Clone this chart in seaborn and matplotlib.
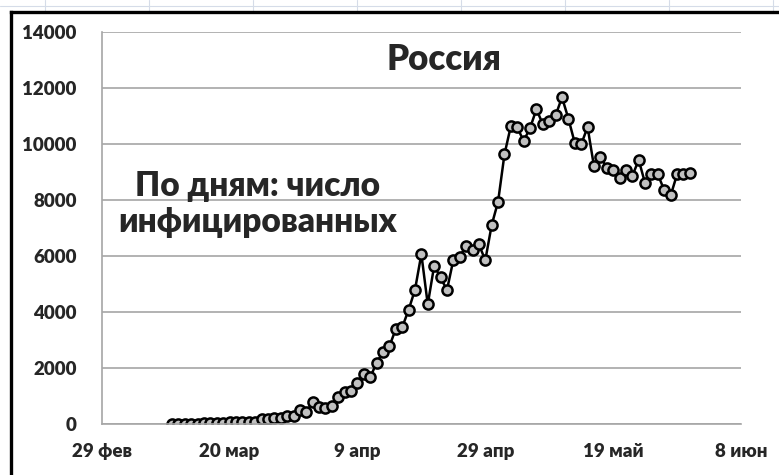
import matplotlib
matplotlib.use("Agg")

import matplotlib.pyplot as plt
import pandas as pd
import seaborn as sns
from matplotlib.lines import Line2D

# Daily new infections in Russia, one value per day starting 11 March 2020
START_DATE = "2020-03-11"
DAILY_CASES = [
    8, 6, 11, 14, 4, 30, 21, 33, 52, 54, 53, 61, 71, 57, 163, 182, 196, 228, 270, 302, 501,
    440, 771, 601, 582, 658, 954, 1154, 1175, 1459, 1786, 1667, 2186, 2558, 2774, 3388,
    3448, 4070, 4785, 6060, 4268, 5642, 5236, 4774, 5849, 5966, 6361, 6198, 6411, 5841, 7099,
    7933, 9623, 10633, 10581, 10102, 10559, 11231, 10699, 10817, 11012, 11656, 10899, 10028,
    9974, 10598, 9200, 9533, 9150, 9054, 8766, 9054, 8850, 9425, 8587, 8910, 8910, 8335,
    8155, 8910, 8910, 8970,
]

X_TICK_DATES = ["2020-02-29", "2020-03-20", "2020-04-09", "2020-04-29", "2020-05-19", "2020-06-08"]
X_TICK_LABELS = ["29 фев", "20 мар", "9 апр", "29 апр", "19 май", "8 июн"]
Y_TICKS = [0, 2000, 4000, 6000, 8000, 10000, 12000, 14000]

TITLE = "Россия"
NOTE = "По дням: число\nинфицированных"

GRID = "#a6a6a6"


def main() -> None:
    df = pd.DataFrame({
        "date": pd.date_range(START_DATE, periods=len(DAILY_CASES), freq="D"),
        "cases": DAILY_CASES,
    })

    sns.set_theme(style="white")
    plt.rcParams["font.family"] = ["Lato", "DejaVu Sans"]

    fig = plt.figure(figsize=(7.79, 4.75), dpi=100)
    ax = fig.add_axes([0.1306, 0.1074, 0.8206, 0.8259])

    sns.lineplot(
        data=df, x="date", y="cases", ax=ax,
        color="black", linewidth=1.8,
        marker="o", markersize=7.3,
        markerfacecolor="#c0c0c0", markeredgecolor="black", markeredgewidth=1.8,
    )

    ticks = pd.to_datetime(X_TICK_DATES)
    ax.set_xlim(ticks[0], ticks[-1])
    ax.set_xticks(ticks)
    ax.set_xticklabels(X_TICK_LABELS)
    ax.set_ylim(0, 14000)
    ax.set_yticks(Y_TICKS)
    ax.set_yticklabels([str(v) for v in Y_TICKS])
    ax.set_xlabel("")
    ax.set_ylabel("")

    ax.grid(axis="y", color=GRID, linewidth=1.2)
    ax.grid(axis="x", visible=False)
    ax.set_axisbelow(True)
    for side in ("top", "right"):
        ax.spines[side].set_visible(False)
    for side in ("left", "bottom"):
        ax.spines[side].set_color(GRID)
        ax.spines[side].set_linewidth(1.2)

    ax.tick_params(axis="both", which="major", direction="out", color=GRID,
                   width=1.2, length=6, labelsize=13.5)
    ax.tick_params(axis="y", pad=12)
    ax.tick_params(axis="x", pad=8)
    for lbl in ax.get_xticklabels() + ax.get_yticklabels():
        lbl.set_fontweight("heavy")

    ax.text(0.535, 0.928, TITLE, transform=ax.transAxes, ha="center", va="center",
            fontsize=25, fontweight="heavy")
    ax.text(0.244, 0.560, NOTE, transform=ax.transAxes, ha="center", va="center",
            fontsize=24, fontweight="heavy", linespacing=1.15)

    # Excel-like surroundings: faint cell grid and the thick chart frame
    W, H = 779, 475
    cell = "#d5dce8"
    fig.add_artist(Line2D([0, 1], [1 - 6 / H, 1 - 6 / H], color=cell, lw=0.8))
    for x in range(45, W, 104):
        fig.add_artist(Line2D([x / W, x / W], [1 - 11 / H, 1], color=cell, lw=0.8))
    fig.add_artist(Line2D([10.5 / W, 10.5 / W], [0, 1 - 11.5 / H], color="black", lw=2.4,
                          solid_capstyle="projecting"))
    fig.add_artist(Line2D([10.5 / W, 1], [1 - 11.5 / H, 1 - 11.5 / H], color="black", lw=2.4,
                          solid_capstyle="projecting"))

    fig.savefig("out.png", dpi=100)


if __name__ == "__main__":
    main()
